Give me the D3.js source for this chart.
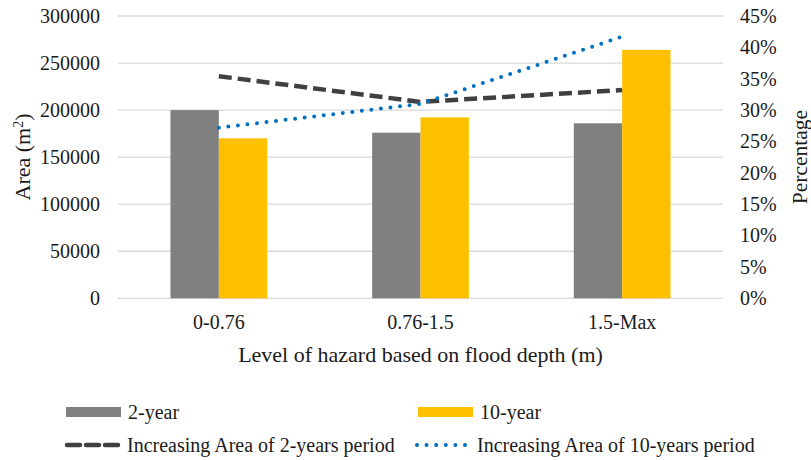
<!DOCTYPE html>
<html>
<head>
<meta charset="utf-8">
<script src="https://cdn.jsdelivr.net/npm/d3@7"></script>
<style>
  html, body { margin: 0; padding: 0; background: #fff; }
  svg text { font-family: "Liberation Serif", "Times New Roman", Tinos, "DejaVu Serif", serif !important; }
</style>
</head>
<body>
<svg id="chart" width="811" height="460"></svg>
<script>
// ---- data ----
const categories = ["0-0.76", "0.76-1.5", "1.5-Max"];
const area2yr = [200000, 176000, 186000];
const area10yr = [170000, 192300, 264000];
const pct2yr = [0.354, 0.313, 0.332];
const pct10yr = [0.272, 0.310, 0.417];
const areaTicks = [0, 50000, 100000, 150000, 200000, 250000, 300000];
const pctTicks = [0, 0.05, 0.10, 0.15, 0.20, 0.25, 0.30, 0.35, 0.40, 0.45];
const seriesNames = ["2-year", "10-year"];
const lineNames = ["Increasing Area of 2-years period", "Increasing Area of 10-years period"];

// ---- layout ----
const svg = d3.select("#chart");
const plotLeft = 118, plotRight = 723, plotTop = 16, plotBottom = 298.3;
const textColor = "#1a1a1a";
const barColors = ["#808080", "#FFC000"];

const x = d3.scaleBand().domain(categories).range([plotLeft, plotRight]).paddingInner(0).paddingOuter(0);
const xInner = d3.scaleBand().domain([0, 1]).range([0, x.bandwidth()]).paddingOuter(1.085).paddingInner(0);
const yL = d3.scaleLinear().domain([0, 300000]).range([plotBottom, plotTop]);
const yR = d3.scaleLinear().domain([0, 0.45]).range([plotBottom, plotTop]);

// gridlines
svg.append("g").selectAll("line").data(areaTicks).join("line")
  .attr("x1", plotLeft).attr("x2", plotRight)
  .attr("y1", d => yL(d)).attr("y2", d => yL(d))
  .attr("stroke", "#d9d9d9").attr("stroke-width", 1.3);

// left axis
const axL = svg.append("g").attr("transform", `translate(${plotLeft},0)`)
  .call(d3.axisLeft(yL).tickValues(areaTicks).tickSize(0).tickPadding(18).tickFormat(d3.format("d")));
axL.select(".domain").remove();
axL.selectAll("text").attr("font-size", 20).attr("fill", textColor);

// right axis
const axR = svg.append("g").attr("transform", `translate(${plotRight},0)`)
  .call(d3.axisRight(yR).tickValues(pctTicks).tickSize(0).tickPadding(17).tickFormat(d3.format(".0%")));
axR.select(".domain").remove();
axR.selectAll("text").attr("font-size", 20).attr("fill", textColor);

// bars
const barData = [];
categories.forEach((c, i) => {
  barData.push({ c, s: 0, v: area2yr[i] });
  barData.push({ c, s: 1, v: area10yr[i] });
});
svg.append("g").selectAll("rect").data(barData).join("rect")
  .attr("x", d => x(d.c) + xInner(d.s))
  .attr("width", xInner.bandwidth())
  .attr("y", d => yL(d.v))
  .attr("height", d => yL(0) - yL(d.v))
  .attr("fill", d => barColors[d.s]);

// lines
const cx = c => x(c) + x.bandwidth() / 2;
const lineGen = d3.line().x((d, i) => cx(categories[i])).y(d => yR(d));
svg.append("path").datum(pct2yr).attr("d", lineGen)
  .attr("fill", "none").attr("stroke", "#404040").attr("stroke-width", 4.5)
  .attr("stroke-dasharray", "13,6").attr("stroke-linecap", "butt");
svg.append("path").datum(pct10yr).attr("d", lineGen)
  .attr("fill", "none").attr("stroke", "#0070C0").attr("stroke-width", 4)
  .attr("stroke-dasharray", "0,9.6").attr("stroke-linecap", "round");

// x axis labels
const axB = svg.append("g").attr("transform", `translate(0,${plotBottom})`)
  .call(d3.axisBottom(x).tickSize(0).tickPadding(17));
axB.select(".domain").remove();
axB.selectAll("text").attr("font-size", 20).attr("fill", textColor);

// axis titles
svg.append("text").attr("x", (plotLeft + plotRight) / 2).attr("y", 362)
  .attr("text-anchor", "middle").attr("font-size", 22).attr("fill", textColor)
  .text("Level of hazard based on flood depth (m)");

const yt = svg.append("text").attr("transform", "translate(30,157) rotate(-90)")
  .attr("text-anchor", "middle").attr("font-size", 22).attr("fill", textColor);
yt.append("tspan").text("Area (m");
yt.append("tspan").attr("baseline-shift", "super").attr("font-size", 14).text("2");
yt.append("tspan").text(")");

svg.append("text").attr("transform", "translate(807,157) rotate(-90)")
  .attr("text-anchor", "middle").attr("font-size", 21.5).attr("fill", textColor)
  .text("Percentage");

// legend
const lg = svg.append("g");
const legendItems = [
  { type: "bar", color: barColors[0], label: seriesNames[0], x: 66, y: 412 },
  { type: "bar", color: barColors[1], label: seriesNames[1], x: 418, y: 412 },
  { type: "dash", color: "#404040", label: lineNames[0], x: 65, y: 445 },
  { type: "dot", color: "#0070C0", label: lineNames[1], x: 415, y: 445 }
];
legendItems.forEach(it => {
  if (it.type === "bar") {
    lg.append("rect").attr("x", it.x).attr("y", it.y - 5).attr("width", 55).attr("height", 10).attr("fill", it.color);
  } else if (it.type === "dash") {
    lg.append("line").attr("x1", it.x + 2).attr("x2", it.x + 53).attr("y1", it.y).attr("y2", it.y)
      .attr("stroke", it.color).attr("stroke-width", 4.5).attr("stroke-dasharray", "13,6").attr("stroke-linecap", "round");
  } else {
    lg.append("line").attr("x1", it.x + 2).attr("x2", it.x + 53).attr("y1", it.y).attr("y2", it.y)
      .attr("stroke", it.color).attr("stroke-width", 4).attr("stroke-dasharray", "0,9.6").attr("stroke-linecap", "round");
  }
  lg.append("text").attr("x", it.x + 62).attr("y", it.y).attr("dy", "0.35em")
    .attr("font-size", 20).attr("fill", textColor).text(it.label);
});
</script>
</body>
</html>
